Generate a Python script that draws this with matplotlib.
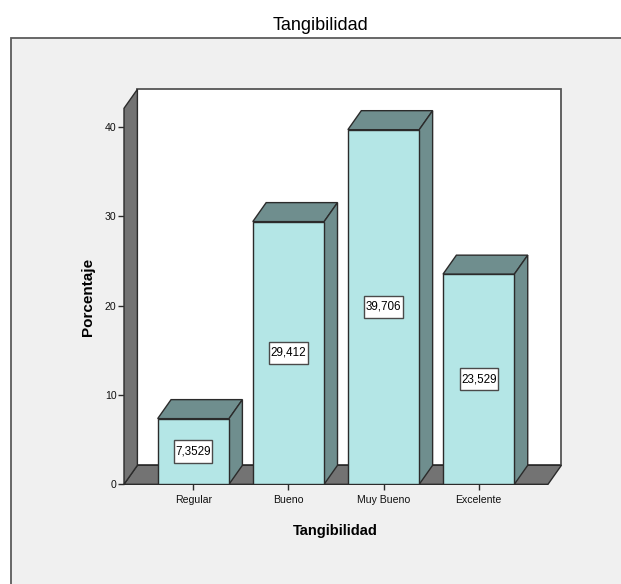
import numpy as np
import matplotlib
matplotlib.use("Agg")
import matplotlib.pyplot as plt
from matplotlib.patches import Polygon, Rectangle
from matplotlib.path import Path

plt.rcParams['font.family'] = ['Liberation Sans', 'DejaVu Sans']

# frecuencias relativas de la variable Tangibilidad
categorias = ['Regular', 'Bueno', 'Muy Bueno', 'Excelente']
porcentajes = [7.3529, 29.412, 39.706, 23.529]
yticks = [0, 10, 20, 30, 40]

c_frente = '#b4e6e6'
c_tapa = '#6f8e8e'
c_pared = '#737373'
c_borde = '#2b2b2b'
c_fondo = '#f0f0f0'

fig = plt.figure(figsize=(6.21, 5.84), dpi=100)
fig.patch.set_facecolor('white')

# marco gris del grafico
fig.patches.append(Rectangle((11 / 621, -0.05), 1.0, (584 - 37.5) / 584 + 0.05,
                             transform=fig.transFigure, facecolor=c_fondo,
                             edgecolor='#5c5c5c', lw=1.3, zorder=-5))

ax = fig.add_axes([124 / 621, (584 - 484.3) / 584, 424 / 621, 376 / 584])
ax.set_facecolor('none')
x0, x1 = -0.729, 3.729
ytop = 42.1
ax.set_xlim(x0, x1)
ax.set_ylim(0, ytop)

# desplazamiento de profundidad (efecto 3D)
DX, DY = 13.4 / 95.1, 19.0 / 8.93

def poly(pts, fc, z):
    p = Polygon(pts, closed=True, facecolor=fc, edgecolor=c_borde, lw=1.0,
                clip_on=False, zorder=z, joinstyle='miter')
    ax.add_patch(p)

# caja de etiqueta: poco margen a los lados, mas arriba y abajo
def caja(bx, by, w, h, mutation_size):
    px, py = 0.12 * mutation_size, 0.44 * mutation_size
    verts = [(bx - px, by - py), (bx + w + px, by - py),
             (bx + w + px, by + h + py), (bx - px, by + h + py),
             (bx - px, by - py)]
    return Path(verts, closed=True)

# pared del fondo, piso y pared lateral
ax.add_patch(Rectangle((x0 + DX, DY), x1 - x0, ytop, facecolor='white',
                       edgecolor='#555555', lw=1.3, clip_on=False, zorder=1))
poly([(x0, 0), (x1, 0), (x1 + DX, DY), (x0 + DX, DY)], c_pared, 2)
poly([(x0, 0), (x0 + DX, DY), (x0 + DX, ytop + DY), (x0, ytop)], c_pared, 2)

xs = np.arange(len(categorias))
ancho = 0.75
ax.bar(xs, porcentajes, width=ancho, color=c_frente, edgecolor=c_borde,
       lw=1.0, zorder=4)
for x, v in zip(xs, porcentajes):
    xl, xr = x - ancho / 2, x + ancho / 2
    poly([(xl, v), (xr, v), (xr + DX, v + DY), (xl + DX, v + DY)], c_tapa, 3)
    poly([(xr, 0), (xr + DX, DY), (xr + DX, v + DY), (xr, v)], c_tapa, 3)
    ax.text(x, v / 2, f"{v:.5g}".replace('.', ','), ha='center', va='center',
            fontsize=8.4, color='black', zorder=6,
            bbox=dict(boxstyle=caja, facecolor='white',
                      edgecolor='#4a4a4a', lw=1.0))

for s in ax.spines.values():
    s.set_visible(False)

ax.set_yticks(yticks)
ax.set_xticks(xs)
ax.set_xticklabels(categorias)
ax.tick_params(axis='both', colors=c_borde, labelcolor='#111111',
               labelsize=7.6, length=4.5, width=1.0, direction='out')
ax.tick_params(axis='y', pad=1)
ax.tick_params(axis='x', pad=3.5)

ax.set_ylabel('Porcentaje', fontsize=11, fontweight='bold')
ax.yaxis.set_label_coords(-0.0849, 0.4995)
ax.yaxis.label.set_va('center')
ax.set_xlabel('Tangibilidad', fontsize=10.5, fontweight='bold')
ax.xaxis.set_label_coords(0.499, -0.1348)
ax.xaxis.label.set_va('baseline')

fig.text(320.5 / 621, 1 - 29.5 / 584, 'Tangibilidad', ha='center',
         va='baseline', fontsize=13)

fig.savefig('out.png', dpi=100)
